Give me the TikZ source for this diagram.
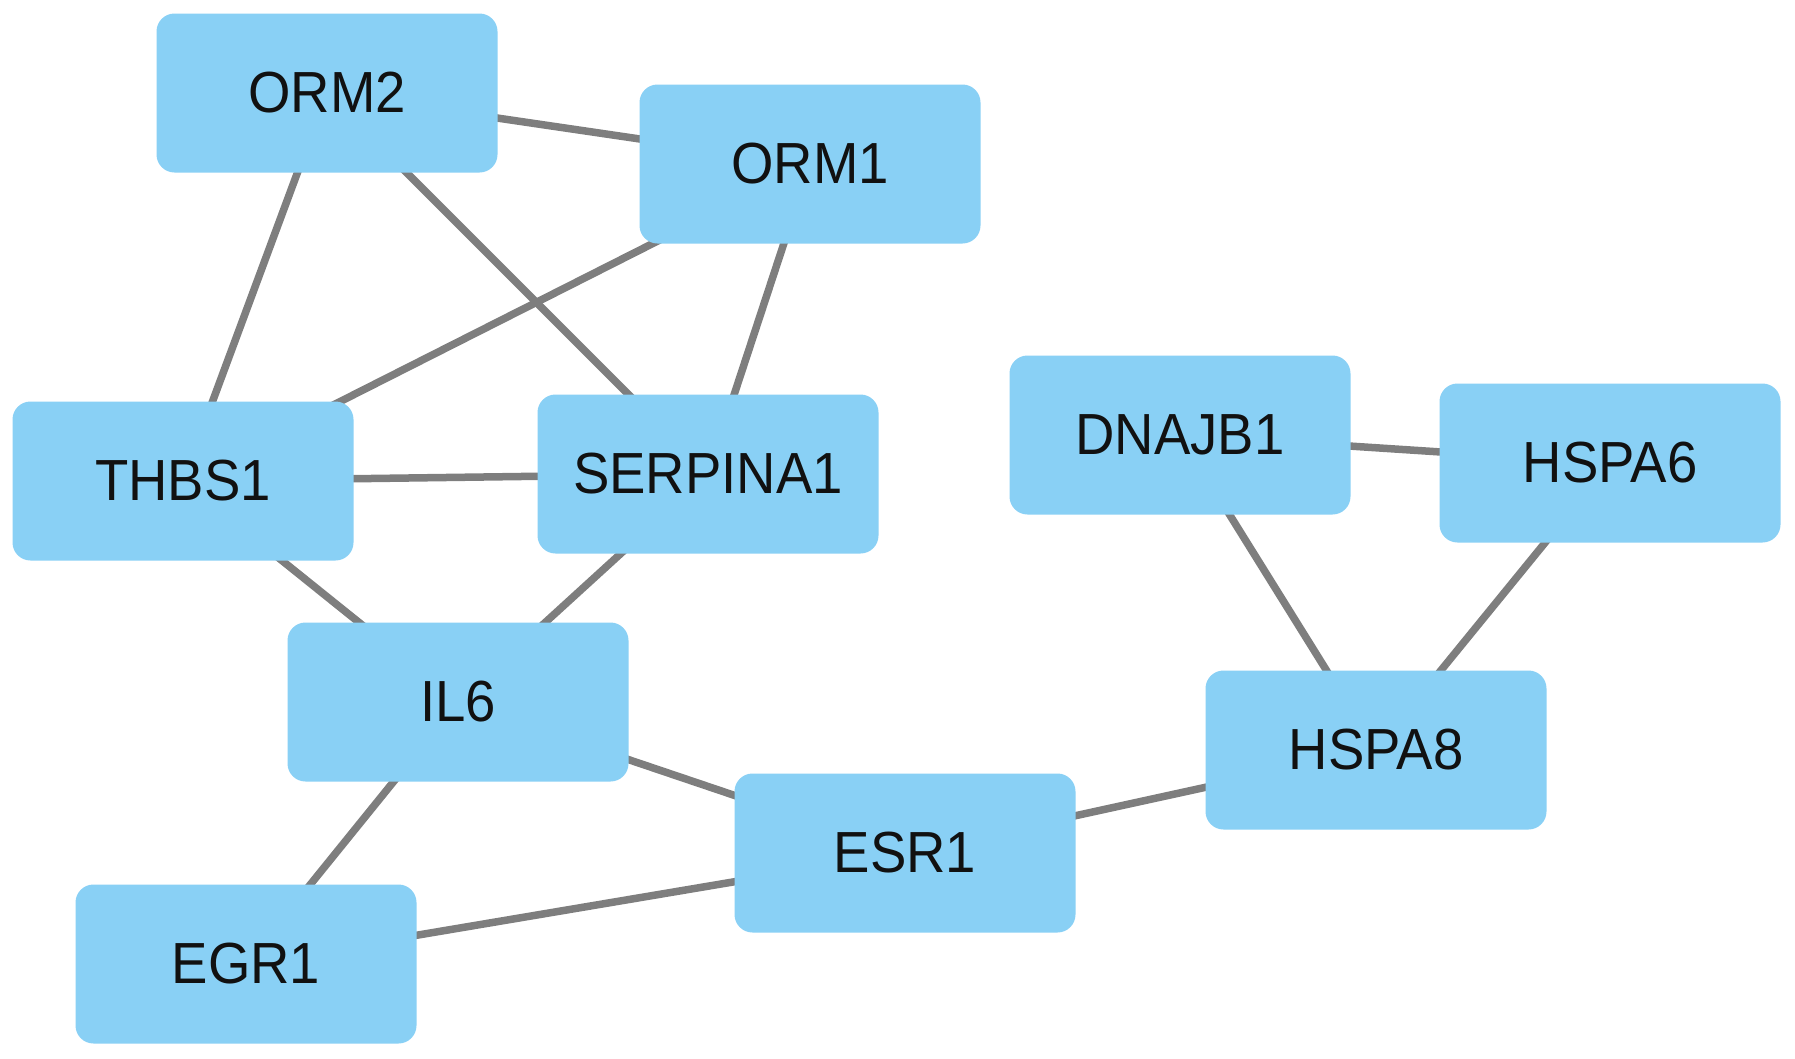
\documentclass[tikz,border=0pt]{standalone}
\usepackage{fontspec}
\setmainfont{Liberation Sans}
\pgfdeclarelayer{bg}
\pgfsetlayers{bg,main}
\definecolor{nodefill}{HTML}{89D0F5}
\definecolor{edgecol}{HTML}{7E7E7E}
\definecolor{txtcol}{HTML}{111111}
\newcommand{\glabel}[1]{\scalebox{0.94}[1]{#1}}
\begin{document}
\begin{tikzpicture}[x=1pt,y=-1pt,
  gene/.style={rectangle, rounded corners=18pt, fill=nodefill, draw=none,
    minimum width=341pt, minimum height=159pt, inner sep=0pt,
    font=\fontsize{58}{66}\selectfont, text=txtcol},
  link/.style={draw=edgecol, line width=7.5pt}]
\useasboundingbox (0,0) rectangle (1795,1058);
\node[gene] (ORM2) at (327,93) {\glabel{ORM2}};
\node[gene] (ORM1) at (810,164) {\glabel{ORM1}};
\node[gene] (THBS1) at (183,481) {\glabel{THBS1}};
\node[gene] (SERPINA1) at (708,474) {\glabel{SERPINA1}};
\node[gene] (IL6) at (458,702) {\glabel{IL6}};
\node[gene] (ESR1) at (905,853) {\glabel{ESR1}};
\node[gene] (EGR1) at (246,964) {\glabel{EGR1}};
\node[gene] (DNAJB1) at (1180,435) {\glabel{DNAJB1}};
\node[gene] (HSPA6) at (1610,463) {\glabel{HSPA6}};
\node[gene] (HSPA8) at (1376,750) {\glabel{HSPA8}};
\begin{pgfonlayer}{bg}
\draw[link] (ORM2.center) -- (ORM1.center);
\draw[link] (ORM2.center) -- (THBS1.center);
\draw[link] (ORM2.center) -- (SERPINA1.center);
\draw[link] (ORM1.center) -- (THBS1.center);
\draw[link] (ORM1.center) -- (SERPINA1.center);
\draw[link] (THBS1.center) -- (SERPINA1.center);
\draw[link] (THBS1.center) -- (IL6.center);
\draw[link] (SERPINA1.center) -- (IL6.center);
\draw[link] (IL6.center) -- (ESR1.center);
\draw[link] (IL6.center) -- (EGR1.center);
\draw[link] (EGR1.center) -- (ESR1.center);
\draw[link] (ESR1.center) -- (HSPA8.center);
\draw[link] (DNAJB1.center) -- (HSPA6.center);
\draw[link] (DNAJB1.center) -- (HSPA8.center);
\draw[link] (HSPA6.center) -- (HSPA8.center);
\end{pgfonlayer}
\end{tikzpicture}
\end{document}
